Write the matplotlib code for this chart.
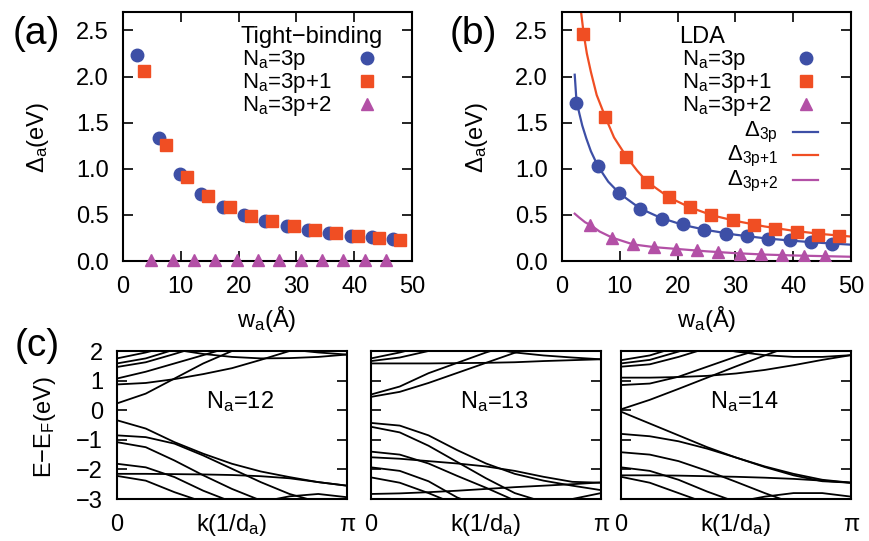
import numpy as np
import matplotlib
matplotlib.use("Agg")
import matplotlib.pyplot as plt

plt.rcParams['font.family'] = ['Liberation Sans', 'DejaVu Sans']
plt.rcParams['mathtext.fontset'] = 'custom'
plt.rcParams['mathtext.rm'] = 'Liberation Sans'
plt.rcParams['mathtext.it'] = 'Liberation Sans'
plt.rcParams['mathtext.default'] = 'regular'

# ---------------- data: panel (a) tight-binding ----------------
tb_w_3p = [2.46, 6.15, 9.84, 13.53, 17.22, 20.91, 24.60, 28.29, 31.98, 35.67, 39.36, 43.05, 46.74]
tb_d_3p = [2.236, 1.333, 0.947, 0.73, 0.59, 0.50, 0.434, 0.383, 0.34, 0.303, 0.275, 0.256, 0.238]
tb_w_3p1 = [3.69, 7.38, 11.07, 14.76, 18.45, 22.14, 25.83, 29.52, 33.21, 36.90, 40.59, 44.28, 47.97]
tb_d_3p1 = [2.055, 1.26, 0.91, 0.71, 0.585, 0.484, 0.43, 0.38, 0.332, 0.303, 0.275, 0.246, 0.23]
tb_w_3p2 = [4.92, 8.61, 12.30, 15.99, 19.68, 23.37, 27.06, 30.75, 34.44, 38.13, 41.82, 45.51]
tb_d_3p2 = [0.01] * 12

# ---------------- data: panel (b) LDA ----------------
lda_w_3p = [2.46, 6.15, 9.84, 13.53, 17.22, 20.91, 24.60, 28.29, 31.98, 35.67, 39.36, 43.05, 46.74]
lda_d_3p = [1.712, 1.026, 0.737, 0.567, 0.459, 0.405, 0.34, 0.296, 0.275, 0.238, 0.224, 0.206, 0.188]
lda_w_3p1 = [3.69, 7.38, 11.07, 14.76, 18.45, 22.14, 25.83, 29.52, 33.21, 36.90, 40.59, 44.28, 47.97]
lda_d_3p1 = [2.464, 1.56, 1.127, 0.856, 0.694, 0.585, 0.495, 0.44, 0.387, 0.35, 0.314, 0.285, 0.27]
lda_w_3p2 = [4.92, 8.61, 12.30, 15.99, 19.68, 23.37, 27.06, 30.75, 34.44, 38.13, 41.82, 45.51]
lda_d_3p2 = [0.387, 0.253, 0.18, 0.152, 0.134, 0.116, 0.098, 0.079, 0.072, 0.065, 0.058, 0.054]

fit_w_3p = [2.2, 2.5, 3.0, 3.5, 4.2, 5.0, 6.2, 8.0, 10.0, 13.5, 17.0, 21.0, 25.0, 30.0, 35.0, 40.0, 45.0, 50.0]
fit_d_3p = [2.02, 1.74, 1.60, 1.47, 1.33, 1.19, 1.03, 0.86, 0.73, 0.57, 0.47, 0.39, 0.336, 0.285, 0.247, 0.219, 0.196, 0.177]
fit_w_3p1 = [3.3, 3.76, 4.3, 5.0, 6.0, 7.5, 9.0, 11.16, 13.0, 14.7, 18.5, 22.0, 26.0, 30.0, 35.0, 40.0, 45.0, 50.0]
fit_d_3p1 = [2.70, 2.46, 2.25, 2.05, 1.80, 1.56, 1.34, 1.13, 0.98, 0.86, 0.69, 0.585, 0.495, 0.435, 0.375, 0.328, 0.292, 0.265]
fit_w_3p2 = [2.2, 3.0, 4.0, 5.0, 6.5, 8.7, 12.3, 16.0, 20.0, 25.0, 30.0, 35.0, 40.0, 45.0, 50.0]
fit_d_3p2 = [0.513, 0.47, 0.42, 0.387, 0.32, 0.253, 0.18, 0.15, 0.13, 0.105, 0.085, 0.07, 0.06, 0.053, 0.046]

# ---------------- data: panel (c) band structures ----------------
k_frac = [0, 0.125, 0.25, 0.375, 0.5, 0.625, 0.75, 0.875, 1.0]
nan = np.nan
bands_12 = [
    [0.23, 0.56, 1.07, 1.58, 2.00, 2.40, nan, nan, nan],
    [0.87, 0.92, 1.05, 1.22, 1.42, 1.70, 2.00, 2.30, nan],
    [1.07, 1.30, 1.58, 1.86, 2.15, nan, nan, nan, nan],
    [1.46, 1.62, 1.90, 2.20, nan, nan, nan, nan, nan],
    [1.58, 1.75, 2.05, nan, nan, nan, nan, nan, nan],
    [1.75, 1.95, 2.20, nan, nan, nan, nan, nan, nan],
    [nan, 2.25, 2.05, 1.90, 1.80, 1.75, 1.76, 1.80, 1.88],
    [nan, nan, nan, nan, nan, 2.20, 2.05, 1.95, 1.88],
    [-0.34, -0.62, -1.08, -1.47, -1.81, -2.07, -2.26, -2.43, -2.55],
    [-0.85, -0.91, -1.13, -1.53, -1.98, -2.43, -2.83, -3.10, nan],
    [-1.08, -1.25, -1.70, -2.20, -2.66, -3.05, nan, nan, nan],
    [-1.81, -1.93, -2.26, -2.72, -3.10, nan, nan, nan, nan],
    [-2.22, -2.38, -2.77, -3.10, nan, nan, nan, nan, nan],
    [-2.15, -2.15, -2.16, -2.17, -2.19, -2.23, -2.30, -2.43, -2.55],
    [nan, nan, nan, nan, nan, -3.10, -2.91, -2.83, -2.94],
]
bands_13 = [
    [0.45, 0.62, 0.92, 1.26, 1.60, 1.94, 2.25, nan, nan],
    [0.53, 0.80, 1.25, 1.60, 1.95, 2.25, nan, nan, nan],
    [1.58, 1.58, 1.58, 1.59, 1.60, 1.62, 1.66, 1.69, 1.72],
    [1.66, 1.78, 2.00, 2.20, nan, nan, nan, nan, nan],
    [1.75, 1.95, 2.20, nan, nan, nan, nan, nan, nan],
    [nan, nan, nan, nan, 2.10, 1.95, 1.85, 1.78, 1.72],
    [-0.43, -0.52, -0.85, -1.35, -1.80, -2.15, -2.38, -2.55, -2.70],
    [-0.56, -0.75, -1.20, -1.75, -2.30, -2.80, -3.10, nan, nan],
    [-1.40, -1.50, -1.80, -2.22, -2.62, -3.05, nan, nan, nan],
    [-1.59, -1.64, -1.72, -1.80, -1.90, -2.05, -2.25, -2.42, -2.45],
    [-1.93, -2.05, -2.40, -2.95, -3.30, nan, nan, nan, nan],
    [-2.27, -2.45, -2.80, -3.20, nan, nan, nan, nan, nan],
    [-2.83, -2.81, -2.77, -2.72, -2.66, -2.60, -2.55, -2.50, -2.44],
    [nan, nan, nan, nan, nan, nan, -3.10, -3.00, -2.80],
]
bands_14 = [
    [0.03, 0.35, 0.72, 1.10, 1.48, 1.85, 2.20, nan, nan],
    [1.10, 1.10, 1.12, 1.16, 1.24, 1.36, 1.52, 1.70, 1.86],
    [0.85, 0.90, 1.13, 1.47, 1.81, 2.10, nan, nan, nan],
    [1.47, 1.55, 1.80, 2.10, nan, nan, nan, nan, nan],
    [1.58, 1.70, 1.98, 2.30, nan, nan, nan, nan, nan],
    [1.69, 1.85, 2.15, nan, nan, nan, nan, nan, nan],
    [nan, nan, nan, 2.15, 1.98, 1.86, 1.80, 1.80, 1.86],
    [-0.05, -0.45, -0.85, -1.25, -1.60, -1.90, -2.15, -2.35, -2.45],
    [-0.80, -0.88, -1.05, -1.30, -1.60, -1.92, -2.20, -2.40, -2.45],
    [-1.42, -1.50, -1.72, -2.05, -2.42, -2.80, -3.15, nan, nan],
    [-1.93, -2.05, -2.35, -2.75, -3.10, nan, nan, nan, nan],
    [-2.25, -2.45, -2.80, -3.15, nan, nan, nan, nan, nan],
    [-2.20, -2.20, -2.21, -2.23, -2.25, -2.28, -2.32, -2.38, -2.45],
    [nan, nan, nan, nan, -3.10, -2.92, -2.80, -2.80, -2.92],
]
band_sets = [bands_12, bands_13, bands_14]
band_labels = ['12', '13', '14']

BLUE = '#3d4fa6'
ORANGE = '#f04e23'
PURPLE = '#b350a6'
FS = 17
LFS = 16

W, H = 869, 541
fig = plt.figure(figsize=(W / 100, H / 100), dpi=100)


def rect(l, t, r, b):
    return [l / W, 1 - b / H, (r - l) / W, (b - t) / H]


def style(ax, xpad=11, ypad=10):
    for s in ax.spines.values():
        s.set_linewidth(1.5)
    ax.tick_params(direction='in', length=7.5, width=1.2, top=True, right=True,
                   labelsize=FS)
    ax.tick_params(axis='x', pad=xpad)
    ax.tick_params(axis='y', pad=ypad)


MS = 9

# ---------------- panel (a) ----------------
axa = fig.add_axes(rect(123, 12, 412, 261))
axa.plot(tb_w_3p, tb_d_3p, 'o', color=BLUE, ms=MS, clip_on=False, zorder=3)
axa.plot(tb_w_3p1, tb_d_3p1, 's', color=ORANGE, ms=MS, clip_on=False, zorder=4)
axa.plot(tb_w_3p2, tb_d_3p2, '^', color=PURPLE, ms=MS, clip_on=False, zorder=4)
axa.set_xlim(0, 50)
axa.set_ylim(0, 2.7)
axa.set_xticks([0, 10, 20, 30, 40, 50])
axa.set_yticks([0, 0.5, 1.0, 1.5, 2.0, 2.5])
axa.set_yticklabels(['0.0', '0.5', '1.0', '1.5', '2.0', '2.5'])
style(axa)

# legend (a)
axa.text(0.405, 0.877, 'Tight\u2212binding', transform=axa.transAxes, fontsize=FS, va='baseline')
rows = [(0.786, 'N$_a$=3p', 'o', BLUE), (0.694, 'N$_a$=3p+1', 's', ORANGE),
        (0.602, 'N$_a$=3p+2', '^', PURPLE)]
for yb, lab, mk, c in rows:
    axa.text(0.412, yb, lab, transform=axa.transAxes, fontsize=LFS, va='baseline')
    axa.plot([0.843], [yb + 0.03], mk, color=c, ms=MS, transform=axa.transAxes, clip_on=False)

# ---------------- panel (b) ----------------
axb = fig.add_axes(rect(562, 12, 851, 261))
axb.plot(fit_w_3p, fit_d_3p, '-', color=BLUE, lw=1.6, zorder=2)
axb.plot(fit_w_3p1, fit_d_3p1, '-', color=ORANGE, lw=1.6, zorder=2)
axb.plot(fit_w_3p2, fit_d_3p2, '-', color=PURPLE, lw=1.6, zorder=2)
axb.plot(lda_w_3p, lda_d_3p, 'o', color=BLUE, ms=MS, zorder=3)
axb.plot(lda_w_3p1, lda_d_3p1, 's', color=ORANGE, ms=MS, zorder=3)
axb.plot(lda_w_3p2, lda_d_3p2, '^', color=PURPLE, ms=MS, zorder=3)
axb.set_xlim(0, 50)
axb.set_ylim(0, 2.7)
axb.set_xticks([0, 10, 20, 30, 40, 50])
axb.set_yticks([0, 0.5, 1.0, 1.5, 2.0, 2.5])
axb.set_yticklabels(['0.0', '0.5', '1.0', '1.5', '2.0', '2.5'])
style(axb)

axb.text(0.405, 0.877, 'LDA', transform=axb.transAxes, fontsize=FS, va='baseline')
for yb, lab, mk, c in rows:
    axb.text(0.415, yb, lab, transform=axb.transAxes, fontsize=LFS, va='baseline')
    axb.plot([0.844], [yb + 0.03], mk, color=c, ms=MS, transform=axb.transAxes, clip_on=False)
lrows = [(0.500, '\u0394$_{3p}$', BLUE, 0.519), (0.405, '\u0394$_{3p{+}1}$', ORANGE, 0.426),
         (0.305, '\u0394$_{3p{+}2}$', PURPLE, 0.325)]
for yb, lab, c, yl in lrows:
    axb.text(0.747, yb, lab, transform=axb.transAxes, fontsize=LFS, va='baseline', ha='right')
    axb.plot([0.799, 0.886], [yl, yl], '-', color=c, lw=1.6, transform=axb.transAxes)

# axis labels (a),(b)
fig.text(38 / W, 1 - 137 / H, '\u0394$_a$(eV)', rotation=90, ha='center', va='center', fontsize=FS)
fig.text(477 / W, 1 - 137 / H, '\u0394$_a$(eV)', rotation=90, ha='center', va='center', fontsize=FS)
fig.text(267 / W, 1 - 327 / H, 'w$_a$(\u00c5)', ha='center', va='baseline', fontsize=FS)
fig.text(707 / W, 1 - 327 / H, 'w$_a$(\u00c5)', ha='center', va='baseline', fontsize=FS)

fig.text(36 / W, 1 - 34 / H, '(a)', ha='center', va='center', fontsize=28)
fig.text(473 / W, 1 - 34 / H, '(b)', ha='center', va='center', fontsize=28)
fig.text(37 / W, 1 - 346 / H, '(c)', ha='center', va='center', fontsize=28)

# ---------------- panel (c) ----------------
lefts = [117, 371, 621]
kk = np.array(k_frac) * np.pi
for i, (l, bands, nl) in enumerate(zip(lefts, band_sets, band_labels)):
    ax = fig.add_axes(rect(l, 351, l + 230, 499))
    for b in bands:
        ax.plot(kk, b, '-', color='black', lw=1.3)
    ax.set_xlim(0, np.pi)
    ax.set_ylim(-3, 2)
    ax.set_yticks([-3, -2, -1, 0, 1, 2])
    ax.set_xticks([0, np.pi])
    ax.set_xticklabels(['0', '\u03c0'])
    for s in ax.spines.values():
        s.set_linewidth(1.5)
    ax.tick_params(axis='y', direction='in', length=7.5, width=1.2, left=True, right=True,
                   labelsize=FS, pad=10, labelleft=(i == 0))
    ax.tick_params(axis='x', length=0, labelsize=FS, pad=11)
    ax.text(0.535, 0.615, 'N$_a$=' + nl, transform=ax.transAxes, ha='center', va='baseline',
            fontsize=FS)
    fig.text((l + 115) / W, 1 - 531 / H, 'k(1/d$_a$)', ha='center', va='baseline', fontsize=FS)

fig.text(45 / W, 1 - 427 / H, 'E\u2212E$_F$(eV)', rotation=90, ha='center', va='center', fontsize=FS)

fig.savefig('out.png', dpi=100)
